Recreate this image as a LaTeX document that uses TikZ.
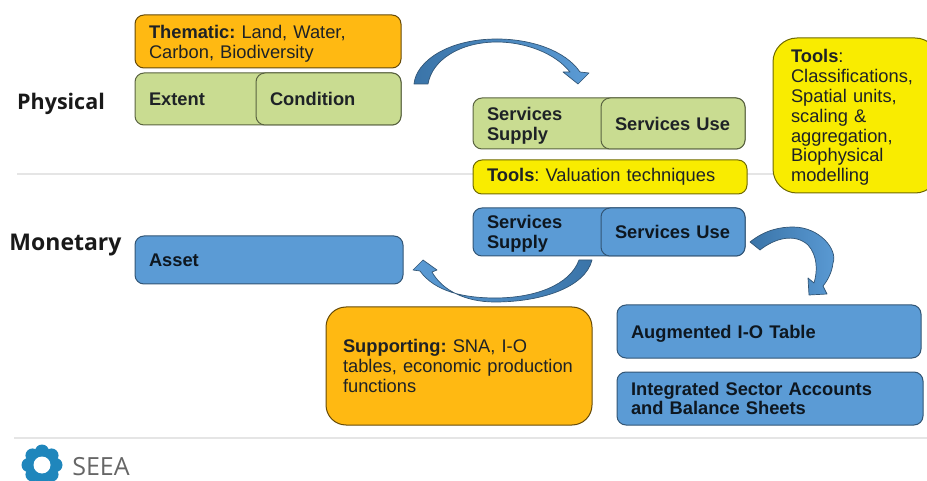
\documentclass[tikz,border=0pt]{standalone}
\usepackage{fontspec}
\setmainfont{Liberation Sans}
\newfontfamily\labelfont{Open Sans}
\usetikzlibrary{calc}
\usetikzlibrary{positioning}
\definecolor{orangebox}{HTML}{FFB912}
\definecolor{greenbox}{HTML}{C9DC91}
\definecolor{bluebox}{HTML}{5B9BD5}
\definecolor{darkarrow}{HTML}{3A74A8}
\definecolor{yellowbox}{HTML}{F9EC00}
\definecolor{inktext}{HTML}{1E2226}
\definecolor{seeablue}{HTML}{1F86BC}
\frenchspacing
\begin{document}
\begin{tikzpicture}[x=1pt,y=-1pt]
    \def\lift{\rule{0pt}{17.5pt}}
    \tikzstyle{box}=[draw=black!55!greenbox,line width=1pt,rounded corners=9pt,inner xsep=14pt,inner ysep=0pt,
        align=left,text=inktext,font=\fontsize{18.3}{19.8}\selectfont]
    \tikzstyle{orange box}=[box,fill=orangebox,draw=black!60!orangebox]
    \tikzstyle{green box}=[box,fill=greenbox]
    \tikzstyle{blue box}=[box,fill=bluebox,draw=black!45!bluebox,text=black!85!bluebox]
    \tikzstyle{yellow box}=[box,fill=yellowbox,draw=black!55!yellowbox]
    \tikzstyle{side}=[font=\labelfont\bfseries\fontsize{21.5}{23}\selectfont,text=black!90]
    \tikzstyle{block arrow}=[draw=black!45!bluebox,line width=0.7pt,line join=round]
    \tikzstyle{rule}=[line width=1.2pt,black!10]

\useasboundingbox (0,0) rectangle (927,481);

% Lignes
\coordinate (R-1) at (17,174);
\coordinate (R-2) at (775,174);
\coordinate (R-3) at (14,438);
\coordinate (R-4) at (927,438);
\draw[rule] (R-1) -- (R-2);
\draw[rule] (R-3) -- (R-4);

% Titres
\node[side] (Phys) at (61,103.5) {Physical};
\node[side,font=\labelfont\bfseries\fontsize{23}{25}\selectfont] (Mon) at (65.5,245) {Monetary};

% Physique
\node[orange box,minimum height=53pt,text width=238pt] (Them) at (268,41.5) {\lift\textbf{Thematic:} Land, Water,\\Carbon, Biodiversity};
\node[green box,minimum height=52pt,text width=238pt] (Ext) at (268,99) {\textbf{Extent}};
\node[green box,minimum height=52pt,text width=117pt] (Cond) at (328.5,99) {\textbf{Condition}};

\node[green box,minimum height=51pt,text width=244pt] (PSup) at (609,123.5) {\lift\textbf{Services}\\\textbf{Supply}};
\node[green box,minimum height=51pt,text width=116pt] (PUse) at (673,123.5) {\textbf{Services Use}};

% Outils
\node[yellow box,minimum height=34pt,text width=246pt] (Val) at (610,177) {\textbf{Tools}: Valuation techniques};
\node[yellow box,rounded corners=24pt,inner xsep=18pt,minimum height=155pt,text width=130pt] (Tool) at (856,115.5) {\lift\textbf{Tools}:\\Classifications,\\Spatial units,\\scaling \&\\aggregation,\\Biophysical\\modelling};

% Monetaire
\node[blue box,minimum height=48pt,text width=244pt] (MSup) at (609,232) {\lift\textbf{Services}\\\textbf{Supply}};
\node[blue box,minimum height=48pt,text width=116pt] (MUse) at (673,232) {\textbf{Services Use}};
\node[blue box,minimum height=48pt,text width=240pt] (Ass) at (269,260) {\textbf{Asset}};

\node[orange box,rounded corners=20pt,inner xsep=17pt,minimum height=118pt,text width=232pt] (Supp) at (459,366) {\textbf{Supporting:} SNA, I-O\\tables, economic production\\functions};
\node[blue box,text depth=0pt,minimum height=53pt,text width=276pt] (Aug) at (769,331.5) {\textbf{Augmented I-O Table}};
\node[blue box,minimum height=53pt,text width=278pt] (Int) at (770,398.5) {\textbf{Integrated Sector Accounts}\\\textbf{and Balance Sheets}};

% Fleches
\path[block arrow,left color=darkarrow,right color=bluebox] (414,84) .. controls (416,62) and (447,39) .. (497,39)
    .. controls (530,39) and (565,50) .. (580,72) -- (589,73) -- (578,84) -- (563,72) -- (570,72)
    .. controls (555,53) and (525,42) .. (497,42) .. controls (460,42) and (432,60) .. (428,84) -- cycle;
\path[block arrow,right color=darkarrow,left color=bluebox] (592,260) .. controls (585,288) and (540,302) .. (495,302)
    .. controls (465,302) and (442,290) .. (432,272) -- (437,270) -- (423,260) -- (413,270) -- (420,271)
    .. controls (435,292) and (465,298) .. (495,298) .. controls (535,298) and (570,285) .. (579,260) -- cycle;
\path[block arrow,left color=darkarrow,right color=bluebox] (750,242) .. controls (765,230) and (780,227) .. (793,227)
    .. controls (820,227) and (838,250) .. (833,263) .. controls (832,272) and (828,280) .. (823,286)
    -- (827,294) -- (809,295) -- (808,278) -- (814,283) .. controls (818,270) and (817,255) .. (808,245)
    .. controls (795,233) and (775,238) .. (760,250) -- cycle;

% Logo
\foreach \ang in {0,45,...,315}
    \fill[seeablue] (42,465) ++(\ang:13.5) circle (7);
\fill[seeablue] (42,465) circle (15);
\fill[white] (42,465) circle (8.5);
\node[font=\labelfont\fontsize{25}{27}\selectfont,text=black!60] (Seea) at (101,467) {SEEA};

\end{tikzpicture}
\end{document}
